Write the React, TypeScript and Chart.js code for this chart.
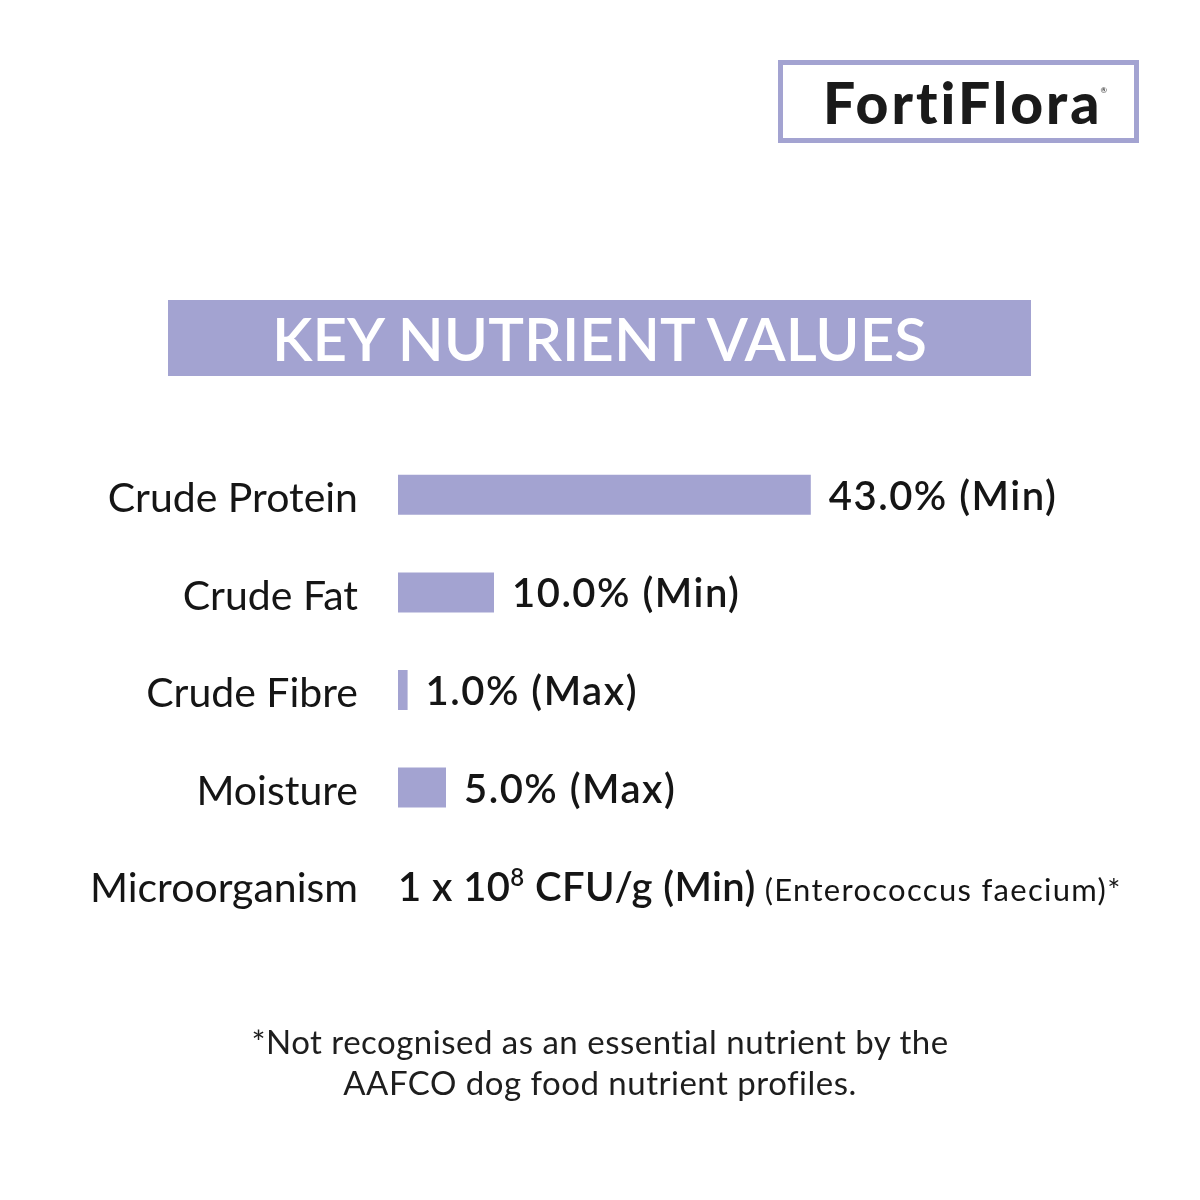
import React, { useEffect, useRef } from "react";
import { Chart, registerables } from "chart.js";

Chart.register(...registerables);

// ---- data ----
const categories = ["Crude Protein", "Crude Fat", "Crude Fibre", "Moisture", "Microorganism"];
const values: (number | null)[] = [43.0, 10.0, 1.0, 5.0, null];
const valueLabels = ["43.0% (Min)", "10.0% (Min)", "1.0% (Max)", "5.0% (Max)", ""];
const microBase = "1 x 10";
const microExp = "8";
const microUnit = " CFU/g (Min)";
const microNote = "(Enterococcus faecium)*";
const title = "KEY NUTRIENT VALUES";
const brand = "FortiFlora";
const footnoteLines = [
  "*Not recognised as an essential nutrient by the",
  "AAFCO dog food nutrient profiles.",
];

const BAR = "#a3a3d1";
const INK = "#151515";
const FONT = "Lato, 'Open Sans', sans-serif";

const labelPlugin = {
  id: "valueLabels",
  afterDatasetsDraw(chart: any) {
    const ctx = chart.ctx as CanvasRenderingContext2D & { letterSpacing?: string };
    const xs = chart.scales.x;
    const ys = chart.scales.y;
    ctx.save();
    ctx.fillStyle = INK;
    ctx.textAlign = "left";
    ctx.textBaseline = "alphabetic";
    categories.forEach((_, i) => {
      const cy = ys.getPixelForValue(i);
      const v = values[i];
      if (v != null) {
        ctx.font = `600 40px ${FONT}`;
        ctx.letterSpacing = "1.5px";
        ctx.fillText(valueLabels[i], xs.getPixelForValue(v) + 18, cy + 15);
      } else {
        let x = xs.getPixelForValue(0);
        const b = cy + 16;
        ctx.font = `600 40px ${FONT}`;
        ctx.letterSpacing = "0.4px";
        ctx.fillText(microBase, x, b);
        x += ctx.measureText(microBase).width;
        ctx.font = `600 24px ${FONT}`;
        ctx.fillText(microExp, x, b - 15);
        x += ctx.measureText(microExp).width;
        ctx.font = `600 40px ${FONT}`;
        ctx.fillText(microUnit, x, b);
        x += ctx.measureText(microUnit).width + 9;
        ctx.font = `400 31px ${FONT}`;
        ctx.letterSpacing = "1.3px";
        ctx.fillText(microNote, x, b);
      }
    });
    ctx.letterSpacing = "0px";
    ctx.restore();
  },
};

function BarChart() {
  const ref = useRef<HTMLCanvasElement>(null);
  useEffect(() => {
    if (!ref.current) return;
    const chart = new Chart(ref.current, {
      type: "bar",
      data: {
        labels: categories,
        datasets: [
          {
            data: values as any,
            backgroundColor: BAR,
            borderWidth: 0,
            barPercentage: 0.82,
            categoryPercentage: 0.5,
          },
        ],
      },
      options: {
        indexAxis: "y",
        animation: false,
        responsive: false,
        maintainAspectRatio: false,
        layout: { padding: { top: 446, bottom: 266, left: 0, right: 82 } },
        plugins: { legend: { display: false }, tooltip: { enabled: false }, title: { display: false } },
        scales: {
          x: { display: false, min: 0, max: 75 },
          y: {
            grid: { display: false },
            border: { display: false },
            afterFit: (scale: any) => {
              scale.width = 398;
            },
            ticks: {
              padding: 32,
              labelOffset: 4,
              color: INK,
              font: { family: FONT, size: 41, weight: "normal" as any },
            },
          },
        },
      },
      plugins: [labelPlugin],
    });
    return () => chart.destroy();
  }, []);
  return <canvas ref={ref} width={1200} height={1200} style={{ position: "absolute", left: 0, top: 0 }} />;
}

export default function App() {
  return (
    <div
      style={{
        position: "absolute",
        left: 0,
        top: 0,
        width: 1200,
        height: 1200,
        background: "#ffffff",
        overflow: "hidden",
        fontFamily: FONT,
      }}
    >
      <BarChart />
      <div
        style={{
          position: "absolute",
          left: 778,
          top: 60,
          width: 361,
          height: 83,
          boxSizing: "border-box",
          border: `5px solid ${BAR}`,
          paddingLeft: 16,
          display: "flex",
          alignItems: "center",
          justifyContent: "center",
          color: "#1a1a1a",
          fontWeight: 900,
          fontSize: 57,
          letterSpacing: 3,
        }}
      >
        <span>{brand}</span>
        <sup style={{ fontSize: 8, marginLeft: -2, position: "relative", top: -12, fontWeight: 400 }}>®</sup>
      </div>
      <div
        style={{
          position: "absolute",
          left: 168,
          top: 300,
          width: 863,
          height: 76,
          background: BAR,
          color: "#ffffff",
          display: "flex",
          alignItems: "center",
          justifyContent: "center",
          fontSize: 60,
          fontWeight: 600,
        }}
      >
        {title}
      </div>
      <div
        style={{
          position: "absolute",
          left: 0,
          top: 1021,
          width: 1200,
          textAlign: "center",
          color: "#1e1e1e",
          fontSize: 33,
          letterSpacing: 0.5,
          lineHeight: "41px",
        }}
      >
        {footnoteLines.map((l, i) => (
          <div key={i}>{l}</div>
        ))}
      </div>
    </div>
  );
}
